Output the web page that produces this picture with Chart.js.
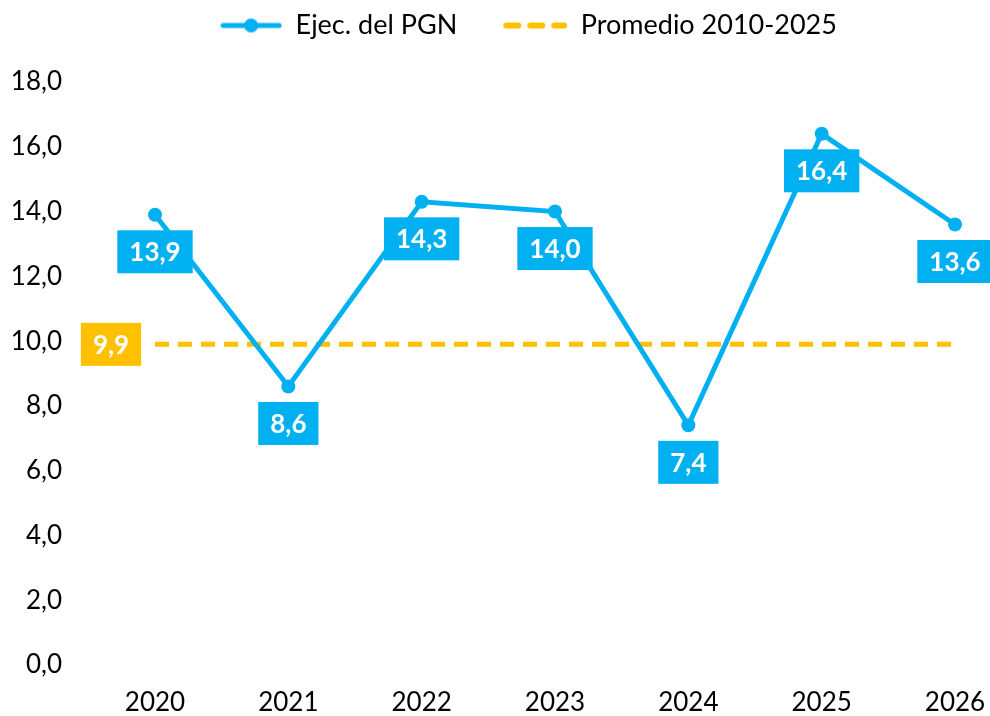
<!DOCTYPE html>
<html>
<head>
<meta charset="utf-8">
<script src="https://cdn.jsdelivr.net/npm/chart.js@4"></script>
<style>
  html, body { margin: 0; padding: 0; background: #fff; overflow: hidden; }
  canvas { display: block; }
</style>
</head>
<body>
<canvas id="chart" width="990" height="716"></canvas>
<script>
// datos
const years = ["2020", "2021", "2022", "2023", "2024", "2025", "2026"];
const ejecPGN = [13.9, 8.6, 14.3, 14.0, 7.4, 16.4, 13.6];
const promedio = [9.9, 9.9, 9.9, 9.9, 9.9, 9.9, 9.9];
const yTicks = [0, 2, 4, 6, 8, 10, 12, 14, 16, 18];

const BLUE = "#00B0F0";
const ORANGE = "#FFC000";
const FONT = "Lato, 'Open Sans', sans-serif";

const fmt = (v) => v.toFixed(1).replace(".", ",");

// iconos de la leyenda (con margen transparente a la izquierda)
const ICON_W = 100;
function lineIcon() {
  const c = document.createElement("canvas");
  c.width = ICON_W; c.height = 16;
  const g = c.getContext("2d");
  const x0 = ICON_W - 62;
  g.strokeStyle = BLUE; g.lineWidth = 5; g.lineCap = "round";
  g.beginPath(); g.moveTo(x0 + 3, 8); g.lineTo(x0 + 59, 8); g.stroke();
  g.fillStyle = BLUE;
  g.beginPath(); g.arc(x0 + 31, 8, 7, 0, Math.PI * 2); g.fill();
  return c;
}
function dashIcon() {
  const c = document.createElement("canvas");
  c.width = ICON_W; c.height = 16;
  const g = c.getContext("2d");
  const x0 = ICON_W - 64;
  g.strokeStyle = ORANGE; g.lineWidth = 6; g.lineCap = "round";
  [[3, 15], [27, 39], [51, 61]].forEach(([a, b]) => {
    g.beginPath(); g.moveTo(x0 + a, 8); g.lineTo(x0 + b, 8); g.stroke();
  });
  return c;
}
const icons = [lineIcon(), dashIcon()];

// etiquetas con caja
const boxLabels = {
  id: "boxLabels",
  afterDatasetsDraw(chart) {
    const ctx = chart.ctx;
    ctx.save();
    ctx.font = "bold 26px " + FONT;
    ctx.textAlign = "center";
    ctx.textBaseline = "middle";
    const draw = (text, cx, cy, color) => {
      const w = ctx.measureText(text).width + 24;
      const h = 43;
      ctx.fillStyle = color;
      ctx.fillRect(cx - w / 2, cy - h / 2, w, h);
      ctx.fillStyle = "#fff";
      ctx.fillText(text, cx, cy + 1);
    };
    chart.getDatasetMeta(0).data.forEach((pt, i) => {
      draw(fmt(ejecPGN[i]), pt.x, pt.y + 37, BLUE);
    });
    const first = chart.getDatasetMeta(1).data[0];
    draw(fmt(promedio[0]), first.x - 44, first.y, ORANGE);
    ctx.restore();
  },
};

// mover la leyenda (a la derecha y hacia arriba)
const legendShift = {
  id: "legendShift",
  afterLayout(chart) {
    const lg = chart.legend;
    lg.left += 32;
    lg.right += 32;
    lg.top -= 33;
    lg.bottom -= 33;
  },
};

new Chart(document.getElementById("chart"), {
  type: "line",
  data: {
    labels: years,
    datasets: [
      {
        label: "Ejec. del PGN",
        data: ejecPGN,
        borderColor: BLUE,
        backgroundColor: BLUE,
        borderWidth: 5,
        pointRadius: 7,
        pointHoverRadius: 7,
        pointBackgroundColor: BLUE,
        pointBorderWidth: 0,
        tension: 0,
      },
      {
        label: "Promedio 2010-2025",
        data: promedio,
        borderColor: ORANGE,
        backgroundColor: ORANGE,
        borderWidth: 5,
        borderDash: [14, 9],
        pointRadius: 0,
        tension: 0,
      },
    ],
  },
  options: {
    responsive: false,
    animation: false,
    layout: { padding: { left: 0, right: 35, top: 0, bottom: 0 } },
    plugins: {
      legend: {
        display: true,
        position: "top",
        labels: {
          usePointStyle: true,
          pointStyleWidth: ICON_W,
          padding: 10,
          color: "#000",
          font: { family: FONT, size: 27 },
          generateLabels: (chart) =>
            chart.data.datasets.map((ds, i) => ({
              text: ds.label,
              pointStyle: icons[i],
              fillStyle: ds.borderColor,
              strokeStyle: ds.borderColor,
              lineWidth: 0,
              fontColor: "#000",
              datasetIndex: i,
              hidden: false,
            })),
        },
      },
      tooltip: { enabled: false },
    },
    scales: {
      x: {
        offset: false,
        afterFit: (scale) => {
          scale.height = 51;
          scale.paddingLeft = 0;
          scale.paddingRight = 0;
        },
        grid: { display: false, drawTicks: false },
        border: { display: false },
        ticks: {
          color: "#000",
          padding: 22,
          maxRotation: 0,
          font: { family: FONT, size: 26 },
        },
      },
      y: {
        min: 0,
        max: 18,
        afterFit: (scale) => {
          scale.width = 155;
          scale.paddingTop = 82;
          scale.paddingBottom = 0;
        },
        afterBuildTicks: (scale) => {
          scale.ticks = yTicks.map((v) => ({ value: v }));
        },
        grid: { display: false, drawTicks: false },
        border: { display: false },
        ticks: {
          color: "#000",
          padding: 93,
          font: { family: FONT, size: 26 },
          callback: (v) => fmt(v),
        },
      },
    },
  },
  plugins: [boxLabels, legendShift],
});
</script>
</body>
</html>
